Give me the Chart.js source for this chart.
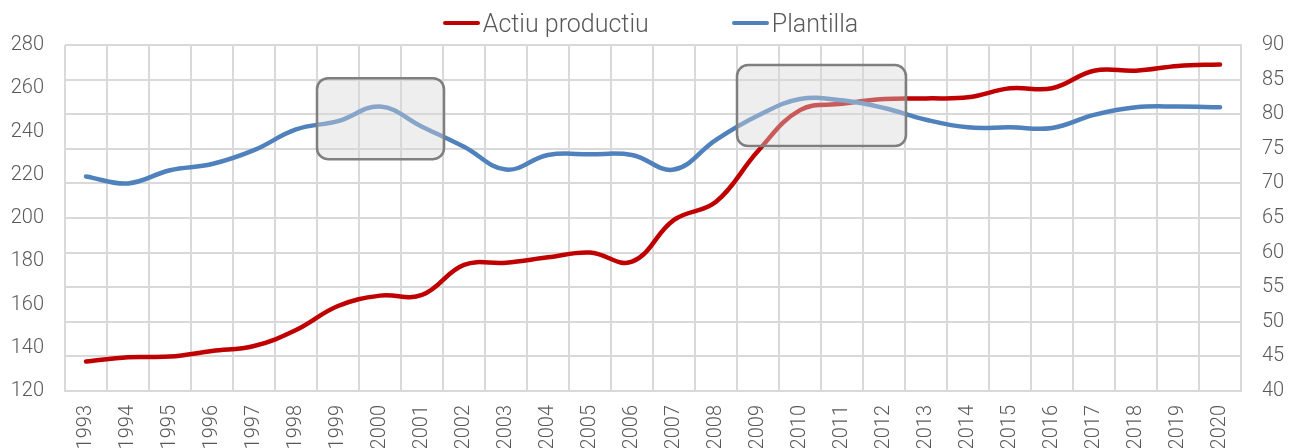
<!DOCTYPE html>
<html>
<head>
<meta charset="utf-8">
<script src="https://cdn.jsdelivr.net/npm/chart.js@4.4.1/dist/chart.umd.min.js"></script>
<style>
  html, body { margin: 0; padding: 0; background: #ffffff; }
  #wrap { position: relative; width: 1289px; height: 448px; overflow: hidden; }
  #legend { position: absolute; left: 0; top: 0; width: 1289px; height: 46px; box-sizing: border-box; padding-left: 12px;
            display: flex; justify-content: center; align-items: center; gap: 83px;
            font-family: Roboto, "Noto Sans", sans-serif; font-weight: 300; font-size: 25px; color: #595959; }
  .item { display: flex; align-items: center; gap: 3px; }
  .swatch { width: 37px; height: 4.5px; border-radius: 2px; }
</style>
</head>
<body>
<div id="wrap">
  <canvas id="c" width="1289" height="448"></canvas>
  <div id="legend"></div>
</div>
<script>
// ---- data ----
const years = ['1993','1994','1995','1996','1997','1998','1999','2000','2001','2002','2003','2004','2005','2006',
               '2007','2008','2009','2010','2011','2012','2013','2014','2015','2016','2017','2018','2019','2020'];
const actiuProductiu = [133.6, 135.6, 135.9, 138.5, 140.8, 148.2, 159.3, 164.1, 164.4, 178.3, 179.3, 181.8, 184.0, 179.8,
                        199.1, 207.5, 231.0, 249.9, 252.8, 255.0, 255.3, 255.8, 260.0, 260.0, 268.1, 268.1, 270.3, 271.0];
const plantilla = [71.0, 70.0, 71.9, 72.8, 74.8, 77.8, 79.0, 81.1, 78.2, 75.3, 72.0, 74.1, 74.2, 74.1,
                   72.0, 76.3, 79.8, 82.2, 82.0, 80.9, 79.2, 78.1, 78.1, 78.0, 79.9, 81.0, 81.1, 81.0];
const seriesNames = ['Actiu productiu', 'Plantilla'];
const leftAxis = { min: 120, max: 280, step: 20 };
const rightAxis = { min: 40, max: 90, step: 5 };
// highlighted periods (first year, last year, upper and lower value on the right axis)
const highlights = [
  { from: '1999', to: '2001', top: 85.2, bottom: 73.5 },
  { from: '2009', to: '2012', top: 87.1, bottom: 75.4 }
];

const RED = '#C00000';
const BLUE = '#4F81BD';
const GRID = '#D9D9D9';
const TXT = '#595959';
const FONT = { family: 'Roboto, "Noto Sans", sans-serif', size: 20, weight: 300 };

const highlightPlugin = {
  id: 'highlightBoxes',
  afterDatasetsDraw(chart) {
    const { ctx } = chart;
    const x = chart.scales.x, y1 = chart.scales.y1;
    ctx.save();
    highlights.forEach(h => {
      const i0 = years.indexOf(h.from), i1 = years.indexOf(h.to);
      const left = x.getPixelForValue(i0 - 0.5);
      const right = x.getPixelForValue(i1 + 0.5) + 1;
      const top = y1.getPixelForValue(h.top);
      const bottom = y1.getPixelForValue(h.bottom);
      ctx.beginPath();
      ctx.roundRect(left, top, right - left, bottom - top, 11);
      ctx.fillStyle = 'rgba(214,214,214,0.42)';
      ctx.fill();
      ctx.lineWidth = 2.5;
      ctx.strokeStyle = '#7F7F7F';
      ctx.stroke();
    });
    ctx.restore();
  }
};

const chart = new Chart(document.getElementById('c'), {
  type: 'line',
  data: {
    labels: years,
    datasets: [
      { label: seriesNames[0], data: actiuProductiu, yAxisID: 'y', borderColor: RED, backgroundColor: RED,
        borderWidth: 4.5, pointRadius: 0, tension: 0.4, borderCapStyle: 'round', order: 2 },
      { label: seriesNames[1], data: plantilla, yAxisID: 'y1', borderColor: BLUE, backgroundColor: BLUE,
        borderWidth: 4.5, pointRadius: 0, tension: 0.4, borderCapStyle: 'round', order: 1 }
    ]
  },
  options: {
    responsive: false,
    devicePixelRatio: 1,
    animation: false,
    layout: { padding: { top: 45, left: 0, right: 0, bottom: 0 } },
    plugins: { legend: { display: false }, tooltip: { enabled: false } },
    scales: {
      x: {
        offset: true,
        grid: { display: true, offset: true, color: GRID, lineWidth: 2, drawTicks: false },
        border: { display: true, color: GRID, width: 2 },
        ticks: { color: TXT, font: FONT, minRotation: 90, maxRotation: 90, padding: 14, autoSkip: false },
        afterFit(s) { s.height = 57; }
      },
      y: {
        position: 'left',
        min: leftAxis.min, max: leftAxis.max,
        ticks: { stepSize: leftAxis.step, color: TXT, font: FONT, padding: 21 },
        grid: { display: false, drawTicks: false },
        border: { display: false },
        afterFit(s) { s.width = 65; s.paddingTop = 0; s.paddingBottom = 0; }
      },
      y1: {
        position: 'right',
        min: rightAxis.min, max: rightAxis.max,
        ticks: { stepSize: rightAxis.step, color: TXT, font: FONT, padding: 21 },
        grid: { display: true, color: GRID, lineWidth: 2, drawTicks: false },
        border: { display: true, color: GRID, width: 2 },
        afterFit(s) { s.width = 48; s.paddingTop = 0; s.paddingBottom = 0; }
      }
    }
  },
  plugins: [highlightPlugin]
});

// legend built from the datasets
const legend = document.getElementById('legend');
chart.data.datasets.forEach(ds => {
  const item = document.createElement('div');
  item.className = 'item';
  const sw = document.createElement('span');
  sw.className = 'swatch';
  sw.style.background = ds.borderColor;
  const t = document.createElement('span');
  t.textContent = ds.label;
  item.appendChild(sw); item.appendChild(t);
  legend.appendChild(item);
});
</script>
</body>
</html>
